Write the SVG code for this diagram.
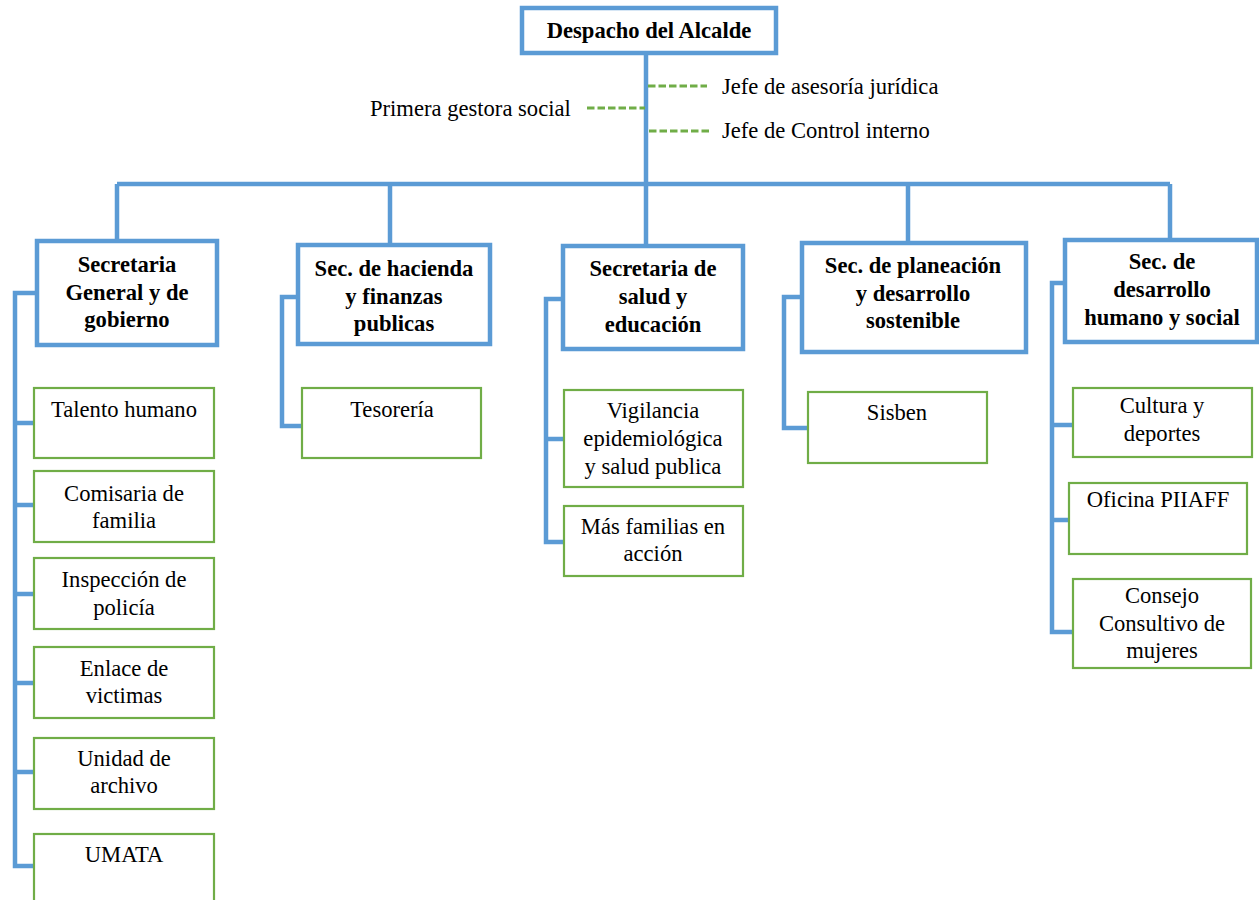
<svg xmlns="http://www.w3.org/2000/svg" width="1259" height="900" viewBox="0 0 1259 900">
<style>
.main{fill:#fff;stroke:#5B9BD5;stroke-width:4.5}
.sub{fill:#fff;stroke:#70AD47;stroke-width:2.2}
.ln{fill:none;stroke:#5B9BD5;stroke-width:4.5}
.dash{fill:none;stroke:#70AD47;stroke-width:2.8;stroke-dasharray:7.5 3}
.tb{font-family:"Liberation Serif","Times New Roman",serif;font-size:22.6px;font-weight:bold;fill:#000;text-anchor:middle}
.tr{font-family:"Liberation Serif","Times New Roman",serif;font-size:22.6px;fill:#000;text-anchor:middle}
.tl{font-family:"Liberation Serif","Times New Roman",serif;font-size:22.6px;fill:#000}
</style>
<rect width="1259" height="900" fill="#fff"/>
<g id="connectors">
<path class="ln" d="M646 53V184M117 184H1170M117 184V241M390 184V245M646 184V246M908 184V243M1170 184V240"/>
<path class="ln" d="M37 293H15V866H34M15 423H34M15 505H34M15 594H34M15 683H34M15 772H34"/>
<path class="ln" d="M298 297H282V426H302"/>
<path class="ln" d="M563 299H546V542H564M546 439H564"/>
<path class="ln" d="M802 297H784V428H808"/>
<path class="ln" d="M1065 283H1052V632H1073M1052 425H1073M1052 520H1069"/>
<path class="dash" d="M648 86H707M587 108H645M649 131H710"/>
</g>
<g id="despacho"><rect class="main" x="522" y="8" width="254" height="45"/><text class="tb" x="649" y="38">Despacho del Alcalde</text></g>
<g id="asesoria"><text class="tl" x="722" y="94">Jefe de asesoría jurídica</text></g>
<g id="gestora"><text class="tl" x="370" y="116">Primera gestora social</text></g>
<g id="control"><text class="tl" x="722" y="138">Jefe de Control interno</text></g>

<g id="sec-general"><rect class="main" x="37" y="241" width="180" height="104"/><text class="tb" x="127" y="272">Secretaria</text><text class="tb" x="127" y="300">General y de</text><text class="tb" x="127" y="327">gobierno</text></g>
<g id="sec-hacienda"><rect class="main" x="298" y="245" width="192" height="99"/><text class="tb" x="394" y="276">Sec. de hacienda</text><text class="tb" x="394" y="304">y finanzas</text><text class="tb" x="394" y="331">publicas</text></g>
<g id="sec-salud"><rect class="main" x="563" y="246" width="180" height="103"/><text class="tb" x="653" y="276">Secretaria de</text><text class="tb" x="653" y="304">salud y</text><text class="tb" x="653" y="332">educación</text></g>
<g id="sec-planeacion"><rect class="main" x="802" y="243" width="224" height="109"/><text class="tb" x="913" y="273">Sec. de planeación</text><text class="tb" x="913" y="301">y desarrollo</text><text class="tb" x="913" y="328">sostenible</text></g>
<g id="sec-desarrollo"><rect class="main" x="1065" y="240" width="192" height="102"/><text class="tb" x="1162" y="269">Sec. de</text><text class="tb" x="1162" y="297">desarrollo</text><text class="tb" x="1162" y="325">humano y social</text></g>

<g id="talento"><rect class="sub" x="34" y="388" width="180" height="70"/><text class="tr" x="124" y="417">Talento humano</text></g>
<g id="comisaria"><rect class="sub" x="34" y="471" width="180" height="71"/><text class="tr" x="124" y="501">Comisaria de</text><text class="tr" x="124" y="528">familia</text></g>
<g id="inspeccion"><rect class="sub" x="34" y="558" width="180" height="71"/><text class="tr" x="124" y="587">Inspección de</text><text class="tr" x="124" y="615">policía</text></g>
<g id="enlace"><rect class="sub" x="34" y="647" width="180" height="71"/><text class="tr" x="124" y="676">Enlace de</text><text class="tr" x="124" y="703">victimas</text></g>
<g id="unidad"><rect class="sub" x="34" y="738" width="180" height="71"/><text class="tr" x="124" y="766">Unidad de</text><text class="tr" x="124" y="793">archivo</text></g>
<g id="umata"><rect class="sub" x="34" y="834" width="180" height="72"/><text class="tr" x="124" y="862">UMATA</text></g>

<g id="tesoreria"><rect class="sub" x="302" y="388" width="179" height="70"/><text class="tr" x="392" y="417">Tesorería</text></g>

<g id="vigilancia"><rect class="sub" x="564" y="390" width="179" height="97"/><text class="tr" x="653" y="418">Vigilancia</text><text class="tr" x="653" y="446">epidemiológica</text><text class="tr" x="653" y="474">y salud publica</text></g>
<g id="familias"><rect class="sub" x="564" y="506" width="179" height="70"/><text class="tr" x="653" y="534">Más familias en</text><text class="tr" x="653" y="561">acción</text></g>

<g id="sisben"><rect class="sub" x="808" y="392" width="179" height="71"/><text class="tr" x="897" y="420">Sisben</text></g>

<g id="cultura"><rect class="sub" x="1073" y="388" width="179" height="69"/><text class="tr" x="1162" y="413">Cultura y</text><text class="tr" x="1162" y="441">deportes</text></g>
<g id="piiaff"><rect class="sub" x="1069" y="483" width="178" height="71"/><text class="tr" x="1158" y="507">Oficina PIIAFF</text></g>
<g id="consejo"><rect class="sub" x="1073" y="579" width="178" height="89"/><text class="tr" x="1162" y="603">Consejo</text><text class="tr" x="1162" y="631">Consultivo de</text><text class="tr" x="1162" y="658">mujeres</text></g>
</svg>
